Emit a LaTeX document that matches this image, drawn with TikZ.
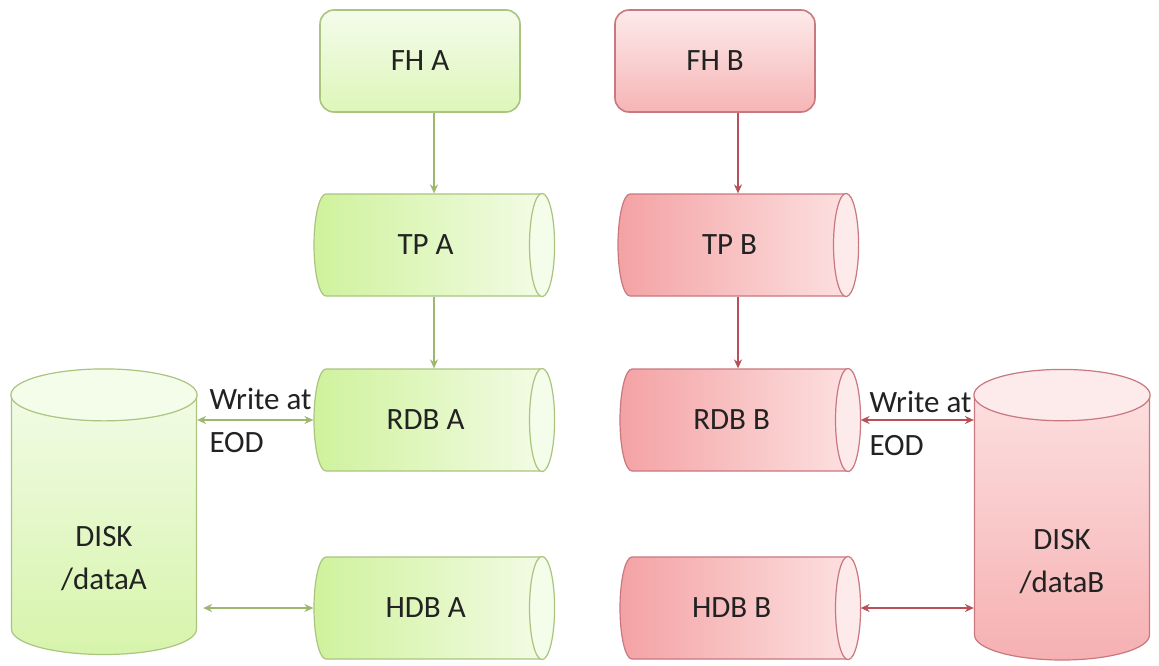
\documentclass[tikz,border=0pt]{standalone}
\usepackage{fontspec}
\setmainfont{Carlito}
\usetikzlibrary{shapes.geometric,arrows.meta,calc}

\definecolor{inkgray}{HTML}{222222}
\definecolor{greenedge}{HTML}{ABC480}
\definecolor{greenarrow}{HTML}{9DB86E}
\definecolor{greenleft}{HTML}{CFF29C}
\definecolor{greenright}{HTML}{F4FCE8}
\definecolor{greencap}{HTML}{F4FCEA}
\definecolor{rededge}{HTML}{C97880}
\definecolor{redarrow}{HTML}{B8505A}
\definecolor{redleft}{HTML}{F4A2A4}
\definecolor{redright}{HTML}{FDE3E3}
\definecolor{redcap}{HTML}{FDEAEA}

\begin{document}
\begin{tikzpicture}[x=1pt,y=-1pt,
  every node/.style={font=\fontsize{31}{43}\selectfont, text=inkgray},
  fhbox/.style={draw, rounded corners=14pt, line width=1.6pt, minimum width=200pt, minimum height=102pt},
  tube/.style={cylinder, draw, line width=1.2pt, aspect=0.9, minimum width=102pt, minimum height=240pt, anchor=shape center},
  disk/.style={cylinder, shape border rotate=90, draw, line width=1.2pt, aspect=0.55, align=center, text height=124pt, anchor=shape center},
  sideA/.style={draw=greenedge, left color=greenleft, right color=greenright},
  sideB/.style={draw=rededge, left color=redleft, right color=redright},
  capA/.style={draw=greenedge, line width=1.2pt, fill=greencap},
  capB/.style={draw=rededge, line width=1.2pt, fill=redcap},
  flowA/.style={draw=greenarrow, line width=1.4pt, -{Stealth[length=9pt,width=8pt]}},
  flowB/.style={draw=redarrow, line width=1.4pt, -{Stealth[length=9pt,width=8pt]}},
  bothA/.style={flowA, {Stealth[length=9pt,width=8pt]}-{Stealth[length=9pt,width=8pt]}},
  bothB/.style={flowB, {Stealth[length=9pt,width=8pt]}-{Stealth[length=9pt,width=8pt]}}]
\useasboundingbox[fill=white] (0,0) rectangle (1159,665);

% feed handlers
\node[fhbox, draw=greenedge, top color=greencap, bottom color=greenleft!70!white] (FHA) at (420,61) {FH A};
\node[fhbox, draw=rededge, top color=redcap, bottom color=redleft!80!white] (FHB) at (715,61) {FH B};

% tickerplants and databases
\node[tube, sideA] (TPA) at (434,245) {TP A};
\node[tube, sideA] (RDBA) at (434,420) {RDB A};
\node[tube, sideA] (HDBA) at (434,608) {HDB A};
\node[tube, sideB] (TPB) at (738,245) {TP B};
\node[tube, sideB] (RDBB) at (740,420) {RDB B};
\node[tube, sideB] (HDBB) at (740,608) {HDB B};

\foreach \nm/\c in {TPA/capA,RDBA/capA,HDBA/capA,TPB/capB,RDBB/capB,HDBB/capB}
  \draw[\c] let \p1=(\nm.top), \p2=(\nm.before top), \p3=(\nm.after top) in
    ($(\nm.before top)!0.5!(\nm.after top)$) ellipse [x radius={abs(\x1-\x2)}, y radius={0.5*abs(\y2-\y3)}];

% disks
\node[disk, draw=greenedge, top color=greencap, bottom color=greenleft!85!white, minimum width=185pt, minimum height=285pt] (DISKA) at (104,512) {DISK\\/dataA};
\node[disk, draw=rededge, top color=redright, bottom color=redleft!85!white, minimum width=175pt, minimum height=290pt] (DISKB) at (1062,515) {DISK\\/dataB};

\draw[capA] let \p1=(DISKA.top), \p2=(DISKA.before top), \p3=(DISKA.after top) in
  ($(DISKA.before top)!0.5!(DISKA.after top)$) ellipse [x radius={0.5*abs(\x2-\x3)}, y radius={abs(\y1-\y2)}];
\draw[capB] let \p1=(DISKB.top), \p2=(DISKB.before top), \p3=(DISKB.after top) in
  ($(DISKB.before top)!0.5!(DISKB.after top)$) ellipse [x radius={0.5*abs(\x2-\x3)}, y radius={abs(\y1-\y2)}];

% flow
\draw[flowA] (FHA.south -| TPA.shape center) -- (TPA.shape center |- TPA.north);
\draw[flowA] (TPA.shape center |- TPA.south) -- (RDBA.shape center |- RDBA.north);
\draw[flowB] (FHB.south -| TPB.shape center) -- (TPB.shape center |- TPB.north);
\draw[flowB] (TPB.shape center |- TPB.south) -- (TPB.shape center |- RDBB.north);

\draw[bothA] (DISKA.east |- RDBA.west) -- (RDBA.west);
\draw[bothA, shorten <=6pt] (DISKA.east |- HDBA.west) -- (HDBA.west);
\draw[bothB] (RDBB.east) -- (DISKB.west |- RDBB.east);
\draw[bothB] (HDBB.east) -- (DISKB.west |- HDBB.east);

\node[anchor=west, align=left] (eodA) at (206,420) {Write at\\EOD};
\node[anchor=west, align=left] (eodB) at (866,423) {Write at\\EOD};
\end{tikzpicture}
\end{document}
